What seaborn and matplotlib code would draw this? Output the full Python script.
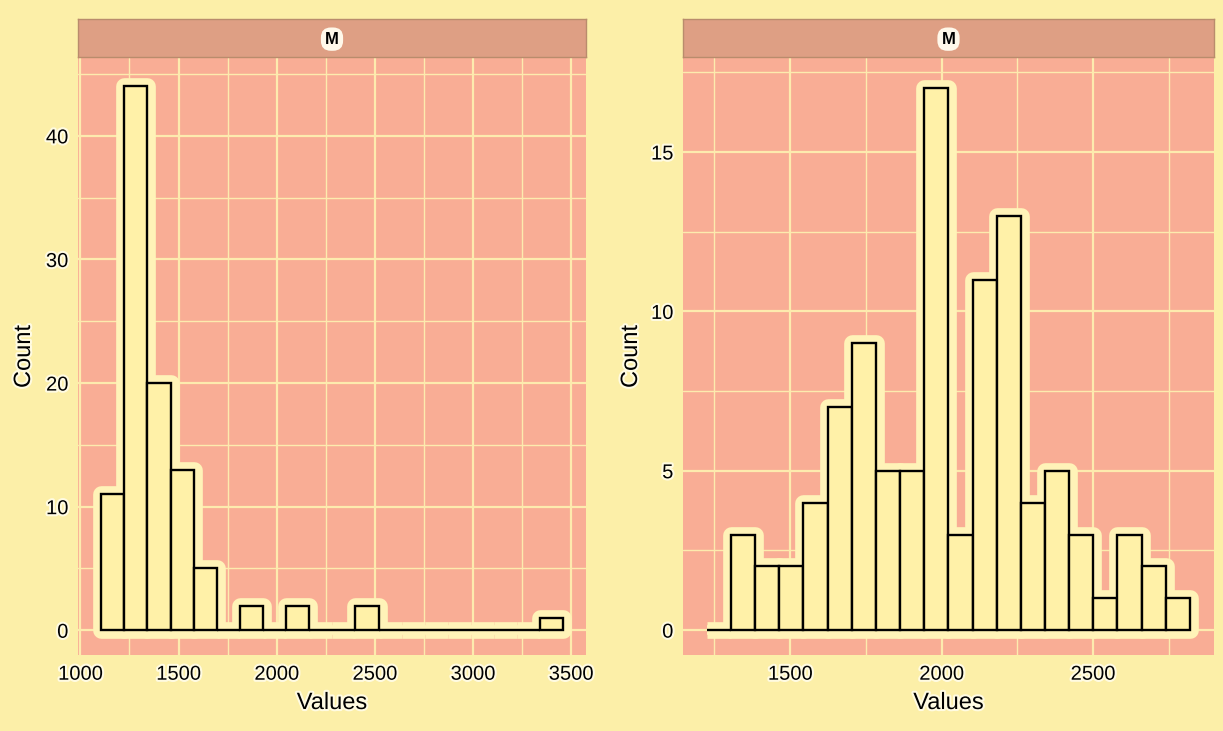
import numpy as np
import pandas as pd
import matplotlib
matplotlib.use("Agg")
import matplotlib.pyplot as plt
import matplotlib.patheffects as pe
from matplotlib.ticker import MultipleLocator
import seaborn as sns

# counts per bin (20 bins per panel)
left_counts = [11, 44, 20, 13, 5, 0, 2, 0, 2, 0, 0, 2, 0, 0, 0, 0, 0, 0, 0, 1]
left_range = (1106.5, 3460.5)
right_counts = [0, 3, 2, 2, 4, 7, 9, 5, 5, 17, 3, 11, 13, 4, 5, 3, 1, 3, 2, 1]
right_range = (1224.5, 2820.5)

left_xticks = [1000, 1500, 2000, 2500, 3000, 3500]
left_yticks = [0, 10, 20, 30, 40]
right_xticks = [1500, 2000, 2500]
right_yticks = [0, 5, 10, 15]
strip_label = "M"

bg = "#FCEFA8"
panel = "#F9AD95"
strip = "#DE9F84"
grid = "#FDEBAE"
bar_fill = "#FFF1A8"
glow = "#FFF3B8"

sns.set_theme(style="darkgrid")
plt.rcParams["font.family"] = ["Liberation Sans", "DejaVu Sans"]

fig = plt.figure(figsize=(12.23, 7.31), dpi=100, facecolor=bg)
W, H = 1223, 731
halo = [pe.withStroke(linewidth=3, foreground="#FFFBE2")]


def draw(px, counts, rng, xlim, ylim, xticks, yticks, xminor, yminor, ylab_off):
    x0, x1, y0, y1 = px  # pixel box of the panel
    ax = fig.add_axes([x0 / W, 1 - y1 / H, (x1 - x0) / W, (y1 - y0) / H])
    n = len(counts)
    edges = np.linspace(rng[0], rng[1], n + 1)
    df = pd.DataFrame({"Values": (edges[:-1] + edges[1:]) / 2, "n": counts})
    common = dict(data=df, x="Values", weights="n", bins=n, binrange=rng, ax=ax)
    # soft glow behind the bars, then the bars themselves
    sns.histplot(**common, color=glow, edgecolor=glow, linewidth=12, alpha=0.55,
                 joinstyle="round")
    sns.histplot(**common, color=glow, edgecolor=glow, linewidth=7, alpha=1,
                 joinstyle="round")
    sns.histplot(**common, color=bar_fill, edgecolor="black", linewidth=1.7,
                 alpha=1)
    ax.set_facecolor(panel)
    ax.set_xlim(*xlim)
    ax.set_ylim(*ylim)
    ax.set_xticks(xticks)
    ax.set_yticks(yticks)
    ax.xaxis.set_minor_locator(MultipleLocator(xminor))
    ax.yaxis.set_minor_locator(MultipleLocator(yminor))
    ax.grid(which="major", color=grid, linewidth=1.6)
    ax.grid(which="minor", color=grid, linewidth=1.0)
    ax.set_axisbelow(True)
    for s in ax.spines.values():
        s.set_visible(False)
    ax.tick_params(which="major", length=4, width=1.6, color="#333333",
                   labelsize=14.5, labelcolor="black", pad=3)
    ax.tick_params(which="minor", length=0)
    for t in ax.get_xticklabels() + ax.get_yticklabels():
        t.set_path_effects(halo)
    ax.set_xlabel("Values", fontsize=17, color="black", path_effects=halo)
    ax.set_ylabel("Count", fontsize=17, color="black", path_effects=halo)
    ax.xaxis.set_label_coords(0.5, -0.062)
    ax.yaxis.set_label_coords(-ylab_off / (x1 - x0), 0.5)

    sx = fig.add_axes([x0 / W, 1 - 57 / H, (x1 - x0) / W, 38 / H])
    sx.set_facecolor(strip)
    sx.set_xticks([])
    sx.set_yticks([])
    for s in sx.spines.values():
        s.set_color("#B98C6C")
        s.set_linewidth(1.0)
    sx.text(0.5, 0.47, strip_label, ha="center", va="center", fontsize=12,
            fontweight="bold", color="black", transform=sx.transAxes,
            bbox=dict(boxstyle="round,pad=0.25,rounding_size=0.6",
                      fc="#FFF8EA", ec="none"))
    return ax


draw((78, 586, 58, 655), left_counts, left_range, (988, 3576), (-2.0, 46.3),
     left_xticks, left_yticks, 250, 5, 43)
draw((683, 1214, 58, 655), right_counts, right_range, (1146, 2900), (-0.78, 17.95),
     right_xticks, right_yticks, 250, 2.5, 41)

fig.savefig("out.png", dpi=100, facecolor=bg)
